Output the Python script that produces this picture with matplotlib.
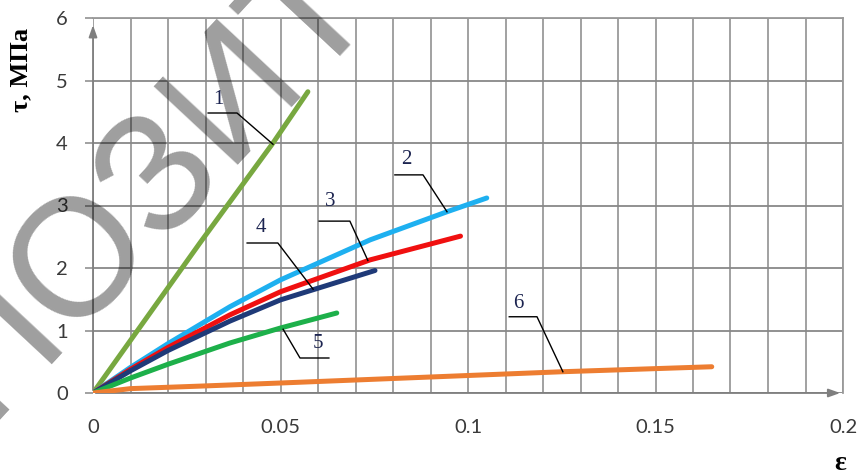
import numpy as np
import matplotlib.pyplot as plt
from matplotlib.ticker import MultipleLocator

# curves: strain eps, shear stress tau (MPa)
eps_1 = [0.0, 0.0285, 0.048, 0.0573]
tau_1 = [0.0, 2.40, 4.0, 4.82]
eps_2 = [0.0, 0.01, 0.02, 0.0365, 0.05, 0.0739, 0.0944, 0.105]
tau_2 = [0.0, 0.41, 0.79, 1.38, 1.81, 2.45, 2.90, 3.12]
eps_3 = [0.0, 0.01, 0.02, 0.0365, 0.05, 0.0739, 0.098]
tau_3 = [0.0, 0.38, 0.73, 1.25, 1.62, 2.13, 2.51]
eps_4 = [0.0, 0.01, 0.02, 0.0365, 0.05, 0.0752]
tau_4 = [0.0, 0.355, 0.68, 1.15, 1.49, 1.96]
eps_5 = [0.0, 0.01, 0.02, 0.0365, 0.05, 0.065]
tau_5 = [0.0, 0.24, 0.46, 0.80, 1.04, 1.28]
eps_6 = [0.0, 0.01, 0.0285, 0.05, 0.125, 0.165]
tau_6 = [0.0, 0.07, 0.11, 0.16, 0.34, 0.42]

curve_names = ["1", "2", "3", "4", "5", "6"]
curve_colors = ["#78a840", "#1eb0f0", "#f01010", "#1f3a78", "#1db04a", "#ed7d31"]

x_ticks = [0, 0.05, 0.1, 0.15, 0.2]
x_labels = ["0", "0.05", "0.1", "0.15", "0.2"]
y_ticks = [0, 1, 2, 3, 4, 5, 6]

# leader lines: label position, then the polyline to the curve
label_pos = [(0.0333, 4.69), (0.0835, 3.73), (0.0632, 3.06),
             (0.0448, 2.64), (0.060, 0.80), (0.1133, 1.44)]
leaders = [
    [(0.0307, 4.48), (0.0384, 4.48), (0.048, 3.98)],
    [(0.0805, 3.49), (0.088, 3.49), (0.0944, 2.90)],
    [(0.0603, 2.75), (0.0685, 2.75), (0.0733, 2.12)],
    [(0.0411, 2.40), (0.0493, 2.40), (0.0587, 1.66)],
    [(0.0507, 1.02), (0.0552, 0.56), (0.0629, 0.56)],
    [(0.111, 1.22), (0.1184, 1.22), (0.1253, 0.34)],
]

fig = plt.figure(figsize=(8.58, 4.75), dpi=100)
ax = fig.add_axes([93 / 858, 82 / 475, 750 / 858, 375 / 475])

grid_c = "#9a9a9a"
ax.set_xlim(0, 0.2)
ax.set_ylim(0, 6)
ax.set_xticks(x_ticks)
ax.set_xticklabels(x_labels)
ax.set_yticks(y_ticks)
ax.xaxis.set_minor_locator(MultipleLocator(0.01))
ax.grid(True, which="both", axis="x", color=grid_c, lw=1.3)
ax.grid(True, which="major", axis="y", color="#888888", lw=1.3)
ax.set_axisbelow(True)

for s in ["left", "bottom"]:
    ax.spines[s].set_visible(False)
for s in ["top", "right"]:
    ax.spines[s].set_color(grid_c)
    ax.spines[s].set_linewidth(1.3)

ax.tick_params(axis="x", which="both", length=0, pad=19, labelsize=14.5,
               labelcolor="#3a3a3a")
ax.tick_params(axis="y", length=6, color=grid_c, width=1.3, pad=12,
               labelsize=14.5, labelcolor="#3a3a3a")
for lab in ax.get_xticklabels() + ax.get_yticklabels():
    lab.set_family("Lato")

# axis arrows
ax.annotate("", xy=(0, 5.93), xytext=(0, 0), annotation_clip=False,
            arrowprops=dict(arrowstyle="-|>,head_length=0.7,head_width=0.25",
                            color="#7f7f7f", lw=1.3))
ax.annotate("", xy=(0.2, 0), xytext=(0, 0), annotation_clip=False,
            arrowprops=dict(arrowstyle="-|>,head_length=0.7,head_width=0.25",
                            color="#7f7f7f", lw=1.3))

series = [(eps_1, tau_1), (eps_2, tau_2), (eps_3, tau_3),
          (eps_4, tau_4), (eps_5, tau_5), (eps_6, tau_6)]
for (xs, ys), c in zip(series, curve_colors):
    ax.plot(xs, ys, color=c, lw=3.6, solid_capstyle="round",
            solid_joinstyle="round", zorder=3)

for name, pos, pts in zip(curve_names, label_pos, leaders):
    px, py = zip(*pts)
    ax.plot(px, py, color="black", lw=1.0, zorder=4)
    ax.text(pos[0], pos[1], name, fontsize=15, family="Liberation Serif",
            color="#1c2450", ha="center", va="center", zorder=5)

fig.text(21 / 858, 1 - 70 / 475, "τ, МПа", rotation=90, fontsize=19,
         family="Liberation Serif", weight="bold", ha="center", va="center")
fig.text(840 / 858, 1 - 463 / 475, "ε", fontsize=20,
         family="Liberation Serif", weight="bold", ha="center", va="center")

# repository watermark across the chart
fig.text(235 / 858, 1 - 90 / 475, "РЕПОЗИТОРИЙ", rotation=47, fontsize=120,
         family="Liberation Sans", color="black", alpha=0.38,
         ha="center", va="center", rotation_mode="anchor", zorder=10)

fig.savefig("out.png", dpi=100)
